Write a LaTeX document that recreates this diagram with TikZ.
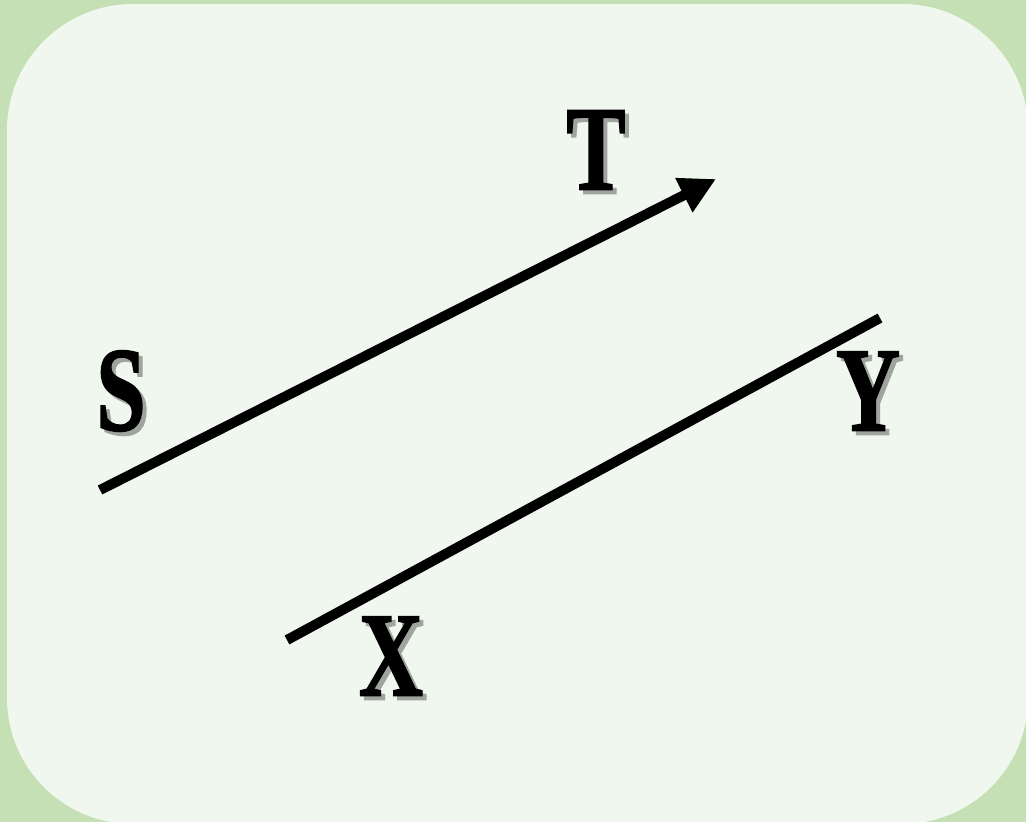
\documentclass[tikz,border=0pt]{standalone}
\usepackage{fontspec}
\setmainfont{Liberation Serif}[BoldFeatures={FakeBold=1.6}]
\usetikzlibrary{arrows.meta}
\definecolor{outergreen}{RGB}{197,224,180}
\definecolor{innergreen}{RGB}{240,247,238}
\definecolor{shadowgray}{RGB}{160,164,158}
\newcommand{\glyphbig}[1]{\scalebox{0.74}[1]{\fontsize{120}{120}\selectfont\bfseries #1}}
\newcommand{\lettertext}[1]{\makebox[0pt][l]{\hspace{4pt}\raisebox{-4pt}{\color{shadowgray}\glyphbig{#1}}}\glyphbig{#1}}
\tikzset{
  lbl/.style={inner sep=0pt, text=black},
  stroke/.style={line width=10pt, black},
}
\begin{document}
\begin{tikzpicture}[x=1pt,y=-1pt]
\useasboundingbox (0,0) rectangle (1026,822);
\fill[outergreen] (0,0) rectangle (1026,822);
\fill[innergreen, rounded corners=126pt] (7,4) rectangle (1028,824);
% line endpoints
\coordinate (s1) at (100,490);
\coordinate (t1) at (716,179);
\coordinate (x1) at (287,640);
\coordinate (y1) at (880,318);
\draw[stroke, -{Triangle[length=36pt,width=36pt]}] (s1) -- (t1);
\draw[stroke] (x1) -- (y1);
% labels
\node[lbl] (T) at (596,152) {\lettertext{T}};
\node[lbl] (S) at (121,393) {\lettertext{S}};
\node[lbl] (Y) at (868,393) {\lettertext{Y}};
\node[lbl] (X) at (391,658) {\lettertext{X}};
\end{tikzpicture}
\end{document}
